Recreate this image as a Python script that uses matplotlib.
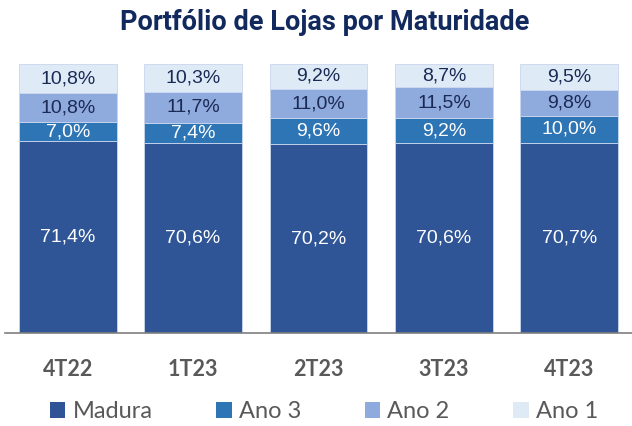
import numpy as np
import matplotlib.pyplot as plt
from matplotlib.patches import Patch

periods = ['4T22', '1T23', '2T23', '3T23', '4T23']
madura = [71.4, 70.6, 70.2, 70.6, 70.7]
ano3 = [7.0, 7.4, 9.6, 9.2, 10.0]
ano2 = [10.8, 11.7, 11.0, 11.5, 9.8]
ano1 = [10.8, 10.3, 9.2, 8.7, 9.5]

series = [('Madura', madura, '#2F5597', 'white'),
          ('Ano 3', ano3, '#2E75B6', 'white'),
          ('Ano 2', ano2, '#8FAADC', '#1B2A55'),
          ('Ano 1', ano1, '#DEEBF7', '#1B2A55')]

fig = plt.figure(figsize=(6.32, 4.26), dpi=100)
ax = fig.add_axes([5/632, 1 - 333/426, 627/632, (333 - 64)/426])

x = np.arange(len(periods))
bottom = np.zeros(len(periods))
handles = []
for name, vals, color, tcol in series:
    vals = np.array(vals)
    ax.bar(x, vals, width=0.78, bottom=bottom, color=color,
           edgecolor='#C9D6EE', linewidth=0.6)
    for xi, b, v in zip(x, bottom, vals):
        ax.text(xi, b + v / 2, f'{v:.1f}%'.replace('.', ','),
                ha='center', va='center', color=tcol, fontsize=14,
                family='Liberation Sans')
    bottom += vals
    handles.append(Patch(facecolor=color, label=name))

ax.set_xlim(-0.5, 4.5)
ax.set_ylim(0, 100)
ax.set_yticks([])
for s in ['top', 'right', 'left']:
    ax.spines[s].set_visible(False)
ax.spines['bottom'].set_color('#7F7F7F')
ax.spines['bottom'].set_linewidth(1.2)
ax.set_xticks(x)
ax.set_xticklabels(periods, fontsize=15.5, fontweight='bold', color='#595959',
                   family='Lato')
ax.tick_params(axis='x', length=0, pad=19)

fig.text(325/632, 1 - 23/426, 'Portfólio de Lojas por Maturidade', ha='center',
         va='center', fontsize=19.5, fontweight='bold', color='#12295E',
         family='Roboto')

fig.legend(handles=handles, loc='center', bbox_to_anchor=(324/632, 1 - 412/426),
           ncol=4, frameon=False, labelcolor='#595959',
           prop={'family': 'Lato', 'size': 17}, handlelength=0.65,
           handleheight=0.65, handletextpad=0.3, columnspacing=2.7)

fig.savefig('out.png', dpi=100, facecolor='white')
